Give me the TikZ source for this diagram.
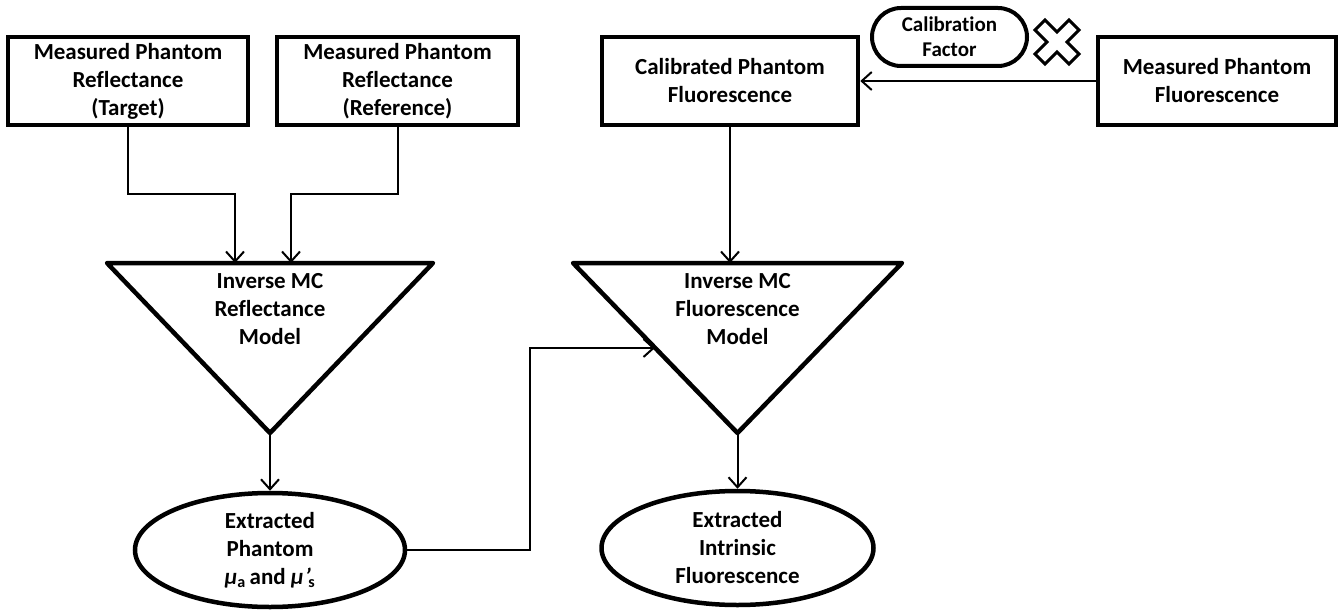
\documentclass[tikz,border=0pt]{standalone}
\usepackage{fontspec}
\setmainfont{Carlito}[Ligatures=NoCommon]
\usetikzlibrary{arrows.meta,shapes.geometric,shapes.misc}
\begin{document}
\begin{tikzpicture}[x=1pt,y=-1pt,
  font=\bfseries\fontsize{23}{28}\selectfont,
  box/.style={draw,line width=4.5pt,rectangle,minimum height=88pt,align=center,inner sep=0pt},
  oval/.style={draw,line width=4.5pt,ellipse,minimum width=270pt,minimum height=114pt,align=center,inner sep=0pt},
  tri/.style={draw,line width=4.5pt,line join=round},
  conn/.style={line width=2pt,-{Straight Barb[length=10pt,width=18pt,line width=2pt]}},
  plainconn/.style={line width=2pt}]
\useasboundingbox (0,0) rectangle (1339,610);
% boxes
\node[box,minimum width=240pt] (b1) at (128,81) {Measured Phantom\\Reflectance\\(Target)};
\node[box,minimum width=241pt] (b2) at (397.5,81) {Measured Phantom\\Reflectance\\(Reference)};
\node[box,minimum width=256pt] (b3) at (730,81) {Calibrated Phantom\\Fluorescence};
\node[box,minimum width=238pt] (b4) at (1217,81) {Measured Phantom\\Fluorescence};
\node[draw,line width=4pt,rounded rectangle,minimum width=155pt,minimum height=58pt,align=center,inner sep=0pt,font=\bfseries\fontsize{21}{25}\selectfont] (cal) at (949.5,37) {Calibration\\Factor};
% cross
\draw[line width=3pt,line join=miter,rotate around={45:(1057,42)}]
  (1057-7,42-24) -- (1057+7,42-24) -- (1057+7,42-7) -- (1057+24,42-7) -- (1057+24,42+7)
  -- (1057+7,42+7) -- (1057+7,42+24) -- (1057-7,42+24) -- (1057-7,42+7) -- (1057-24,42+7)
  -- (1057-24,42-7) -- (1057-7,42-7) -- cycle;
% triangles
\coordinate (t1l) at (107,263); \coordinate (t1r) at (433,263); \coordinate (t1b) at (270,433);
\coordinate (t2l) at (573,263); \coordinate (t2r) at (902,263); \coordinate (t2b) at (737.5,433);
\draw[tri] (t1l) -- (t1r) -- (t1b) -- cycle;
\draw[tri] (t2l) -- (t2r) -- (t2b) -- cycle;
\node[align=center] (m1) at (270,309) {Inverse MC\\Reflectance\\Model};
\node[align=center] (m2) at (737.5,309) {Inverse MC\\Fluorescence\\Model};
% ellipses
\node[oval] (e1) at (270,550) {Extracted\\Phantom\\{\itshape μ}\textsubscript{a}\,and {\itshape μ\kern0.05em\char"2019}\kern-0.1em\textsubscript{s}};
\node[oval,minimum width=272pt] (e2) at (737.5,548) {Extracted\\Intrinsic\\Fluorescence};
% connectors
\coordinate (a1) at (235,263);
\coordinate (a2) at (291,263);
\coordinate (a3) at (655,348);
\draw[conn] (b1.south) |- (235,194) -- (a1);
\draw[conn] (b2.south) |- (291,194) -- (a2);
\draw[conn] (b4.west) -- (b3.east);
\draw[conn] (b3.south) -- (b3.south |- t2l);
\draw[conn] (t1b) -- (e1.north);
\draw[conn] (t2b) -- (e2.north);
\draw[conn] (e1.east) -- (530,550) -- (530,348) -- (a3);
\end{tikzpicture}
\end{document}
